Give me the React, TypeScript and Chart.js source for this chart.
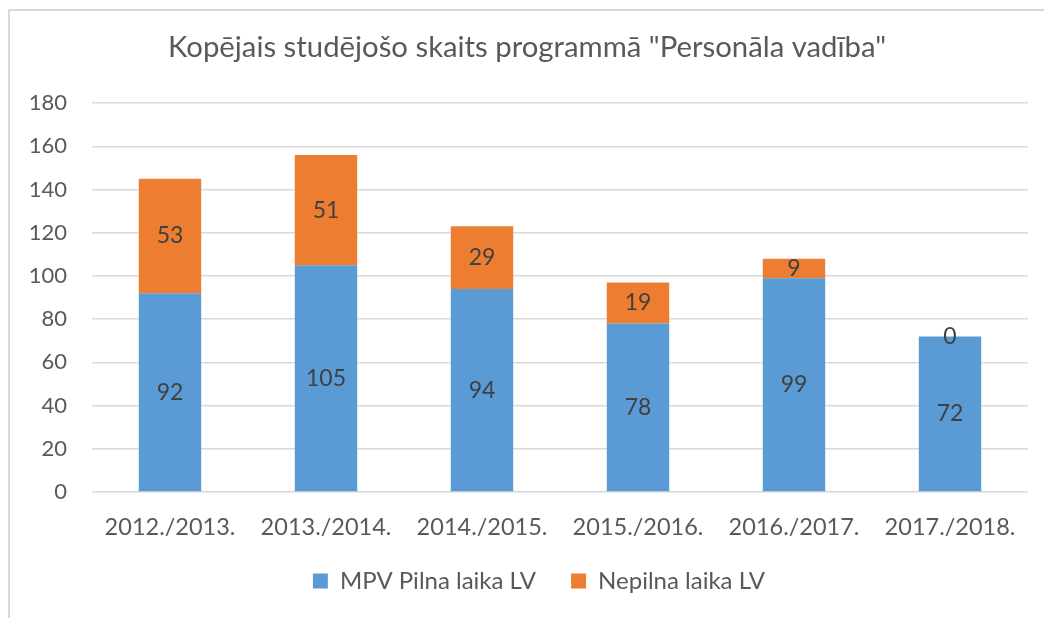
import React, { useEffect, useRef } from "react";
import { Chart, registerables } from "chart.js";

Chart.register(...registerables);

const categories = ["2012./2013.", "2013./2014.", "2014./2015.", "2015./2016.", "2016./2017.", "2017./2018."];
const fullTime = [92, 105, 94, 78, 99, 72];
const partTime = [53, 51, 29, 19, 9, 0];
const seriesNames = ["MPV Pilna laika LV", "Nepilna laika LV"];
const titleText = 'Kopējais studējošo skaits programmā "Personāla vadība"';

const FONT = "Lato";
const TEXT = "#595959";

const dataLabels = {
  id: "dataLabels",
  afterDatasetsDraw(chart: any) {
    const ctx = chart.ctx;
    ctx.save();
    ctx.font = `23px ${FONT}`;
    ctx.fillStyle = "#404040";
    ctx.textAlign = "center";
    ctx.textBaseline = "middle";
    chart.data.datasets.forEach((ds: any, i: number) => {
      const meta = chart.getDatasetMeta(i);
      meta.data.forEach((el: any, j: number) => {
        const y = (el.y + el.base) / 2;
        ctx.fillText(String(ds.data[j]), el.x, y);
      });
    });
    ctx.restore();
  },
};

const legendShift = {
  id: "legendShift",
  afterLayout(chart: any) {
    if (chart.legend) {
      chart.legend.left += 12;
      chart.legend.right += 12;
      chart.legend.top -= 8;
      chart.legend.bottom -= 8;
    }
  },
};

export default function App() {
  const ref = useRef<HTMLCanvasElement>(null);
  useEffect(() => {
    const chart = new Chart(ref.current!, {
      type: "bar",
      data: {
        labels: categories,
        datasets: [
          { label: seriesNames[0], data: fullTime, backgroundColor: "#5B9BD5", categoryPercentage: 1, barPercentage: 0.4 },
          { label: seriesNames[1], data: partTime, backgroundColor: "#ED7D31", categoryPercentage: 1, barPercentage: 0.4 },
        ],
      },
      options: {
        responsive: false,
        animation: false,
        layout: { padding: { left: 26, right: 16, top: 20, bottom: 7 } },
        plugins: {
          title: {
            display: true,
            text: titleText,
            color: TEXT,
            font: { family: FONT, size: 29.3, weight: "normal" },
            padding: { top: 10, bottom: 38 },
          },
          legend: {
            position: "bottom",
            labels: {
              color: TEXT,
              font: { family: FONT, size: 24 },
              boxWidth: 15,
              boxHeight: 15,
              padding: 35,
            },
          },
          tooltip: { enabled: false },
        },
        scales: {
          x: {
            stacked: true,
            grid: { display: false },
            border: { display: false },
            ticks: { color: TEXT, font: { family: FONT, size: 23.5 }, padding: 13, maxRotation: 0, autoSkip: false },
            afterFit: (s: any) => { s.height = 50; },
          },
          y: {
            stacked: true,
            min: 0,
            max: 180,
            grid: { color: "#d9d9d9", lineWidth: 1.5, drawTicks: false },
            border: { display: false },
            ticks: { stepSize: 20, color: TEXT, font: { family: FONT, size: 22 }, padding: 25 },
            afterFit: (s: any) => { s.width = 66; },
          },
        },
      },
      plugins: [dataLabels, legendShift],
    });
    return () => chart.destroy();
  }, []);
  return (
    <div style={{ position: "fixed", left: 0, top: 0, width: 1044, height: 618, background: "#fff" }}>
      <canvas ref={ref} width={1044} height={618} style={{ position: "absolute", left: 0, top: 0 }} />
      <div style={{ position: "absolute", left: 8, top: 9, width: 1036, height: 609, borderLeft: "2px solid #d9d9d9", borderTop: "2px solid #d9d9d9", boxSizing: "border-box", pointerEvents: "none" }} />
    </div>
  );
}
